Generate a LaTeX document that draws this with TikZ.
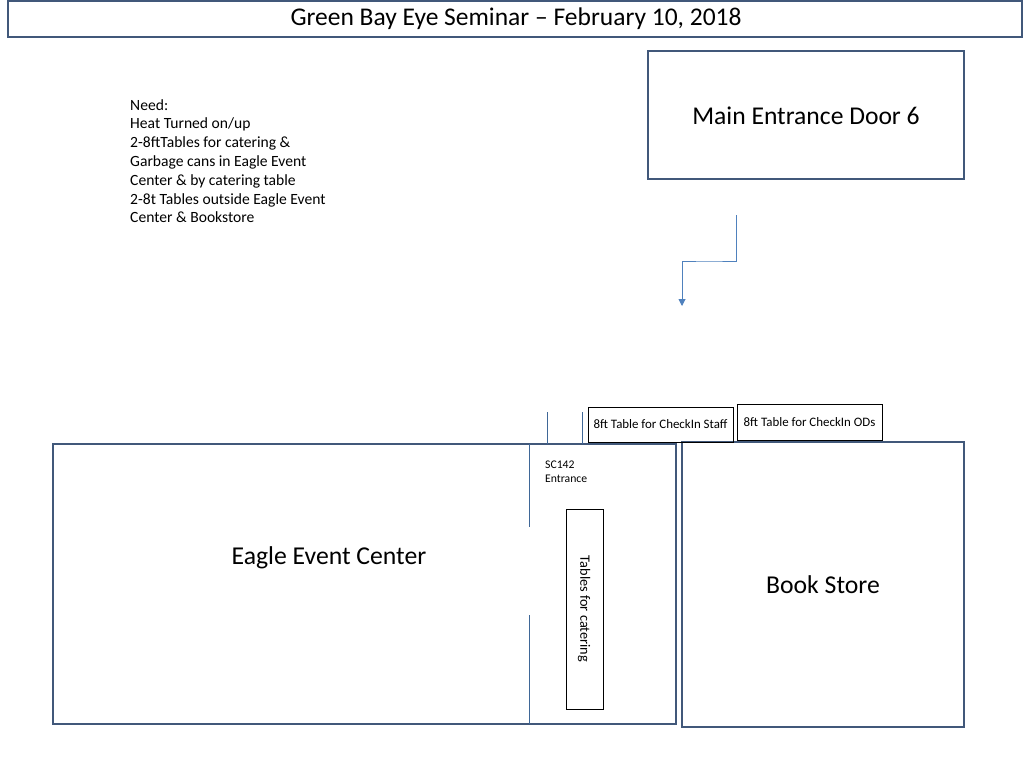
\documentclass[tikz,border=0pt]{standalone}
\usepackage{fontspec}
\setmainfont{Carlito}
\usetikzlibrary{arrows.meta}
\definecolor{wallblue}{HTML}{41587A}
\definecolor{lineblue}{HTML}{4F81BD}
\begin{document}
\begin{tikzpicture}[x=1pt,y=-1pt,
  room/.style={draw=wallblue, line width=2pt},
  tablebox/.style={draw=black, line width=0.8pt},
  door/.style={draw=lineblue!80!black, line width=0.8pt}]
\useasboundingbox (0,0) rectangle (1024,768);
% Title
\draw[room] (8,1) rectangle (1022,37);
\node[font=\fontsize{25.5}{30}\selectfont] (title) at (516,19) {Green Bay Eye Seminar -- February 10, 2018};
% Main entrance
\draw[room] (648,51) rectangle (964,179);
\node[font=\fontsize{25.6}{30}\selectfont] (entry) at (806,116) {Main Entrance Door 6};
% Notes
\node[anchor=north west, align=left, font=\fontsize{15.6}{18.8}\selectfont, inner sep=0pt] (notes) at (130,99)
  {Need:\\Heat Turned on/up\\2-8ftTables for catering \&\\Garbage cans in Eagle Event\\Center \& by catering table\\2-8t Tables outside Eagle Event\\Center \& Bookstore};
% Arrow
\coordinate (a1) at (736,215);
\coordinate (a2) at (682,306);
\draw[draw=lineblue, line width=1pt, -{Triangle[width=7pt,length=7pt]}] (a1) |- (709,261) -| (a2);
% Rooms
\draw[room] (53,444) rectangle (676,724);
\node[font=\fontsize{25.7}{30}\selectfont] (eagle) at (329,558) {Eagle Event Center};
\draw[room] (682,442) rectangle (964,727);
\node[font=\fontsize{25.7}{30}\selectfont] (book) at (823,585) {Book Store};
% Doors
\draw[door] (529,444) -- (529,527);
\draw[door] (529,615) -- (529,724);
\draw[door] (547,412) -- (547,444);
\draw[door] (582,412) -- (582,444);
\node[anchor=north west, align=left, font=\fontsize{11.7}{14}\selectfont, inner sep=0pt] (sc) at (545,461) {SC142\\Entrance};
% Tables
\draw[tablebox] (566,509) rectangle (603,709);
\node[rotate=-90, font=\fontsize{14.3}{17}\selectfont] (cater) at (584,609) {Tables for catering};
\draw[tablebox] (588,407) rectangle (733,442);
\node[font=\fontsize{12.9}{15}\selectfont] (staff) at (660.5,424.5) {8ft Table for CheckIn Staff};
\draw[tablebox] (737,404) rectangle (882,440);
\node[font=\fontsize{12.9}{15}\selectfont] (ods) at (809.5,422) {8ft Table for CheckIn ODs};
\end{tikzpicture}
\end{document}
